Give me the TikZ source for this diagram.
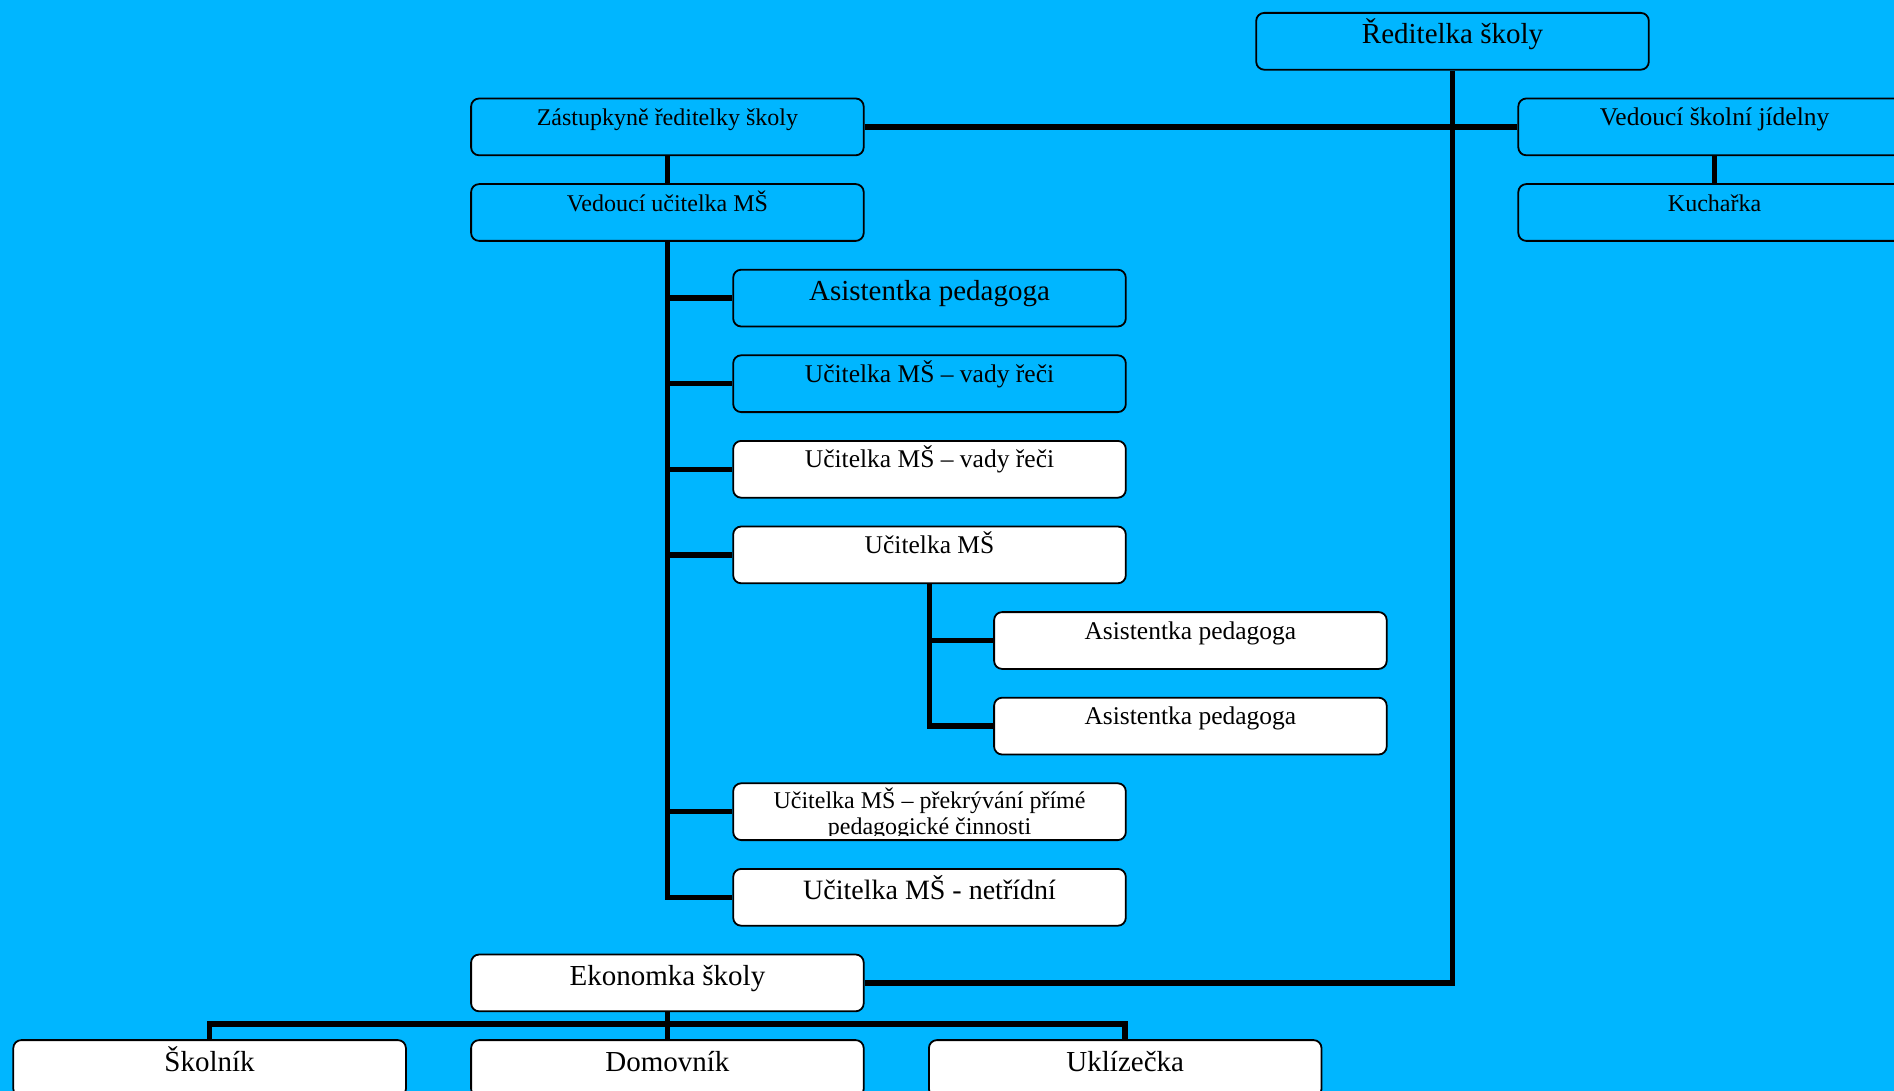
\documentclass[tikz,border=0pt]{standalone}
\usepackage{fontspec}
\setmainfont{Liberation Serif}
\definecolor{sky}{RGB}{0,182,255}
\begin{document}
\begin{tikzpicture}[x=1pt,y=-1pt,
  box/.style={draw,line width=1.8pt,rounded corners=8pt,anchor=north,minimum width=392.6pt,minimum height=56.8pt,inner xsep=2pt,inner ysep=0pt},
  small/.style={box,font=\fontsize{24}{26}\selectfont,text height=27pt,text depth=29.8pt},
  mid/.style={box,font=\fontsize{25.5}{27}\selectfont,text height=27pt,text depth=29.8pt},
  big/.style={box,font=\fontsize{29}{31}\selectfont,text height=31pt,text depth=25.8pt},
  link/.style={line width=5.5pt}]
\clip (0,0) rectangle (1894,1091);
\fill[sky] (0,0) rectangle (1894,1091);

\node[big] (dir) at (1452.5,12) {Ředitelka školy};
\node[small] (zast) at (667.4,97.6) {Zástupkyně ředitelky školy};
\node[mid] (jid) at (1714.6,97.6) {Vedoucí školní jídelny};
\node[small] (vedu) at (667.4,183.2) {Vedoucí učitelka MŠ};
\node[small] (kuch) at (1714.6,183.2) {Kuchařka};
\node[big] (asp) at (929.5,268.8) {Asistentka pedagoga};
\node[mid] (vada1) at (929.5,354.4) {Učitelka MŠ – vady řeči};
\node[mid,fill=white] (vada2) at (929.5,440) {Učitelka MŠ – vady řeči};
\node[mid,fill=white] (ucit) at (929.5,525.6) {Učitelka MŠ};
\node[mid,fill=white] (asa) at (1190.4,611.2) {Asistentka pedagoga};
\node[mid,fill=white] (asb) at (1190.4,696.8) {Asistentka pedagoga};
% two lines, cut off by the box
\node[box,fill=white,text height=0pt,text depth=56.8pt,
  path picture={
    \clip ([yshift=5pt]path picture bounding box.south west) rectangle (path picture bounding box.north east);
    \node[anchor=north,align=center,inner sep=0pt,text height=,text depth=,font=\fontsize{24}{26}\selectfont] (prekrtxt)
      at ([yshift=-1pt]path picture bounding box.north) {Učitelka MŠ – překrývání přímé\\pedagogické činnosti};
  }] (prekr) at (929.5,782.4) {};
\node[big,font=\fontsize{28}{30}\selectfont,fill=white] (netr) at (929.5,868) {Učitelka MŠ - netřídní};
\node[big,fill=white] (ekon) at (667.4,953.6) {Ekonomka školy};
\node[big,fill=white] (skol) at (209.6,1039.2) {Školník};
\node[big,fill=white] (domo) at (667.4,1039.2) {Domovník};
\node[big,fill=white] (ukli) at (1125.2,1039.2) {Uklízečka};

\draw[link] (dir.south) |- (ekon.east);
\draw[link] (zast.east) -- (jid.west);
\draw[link] (zast.south) -- (vedu.north);
\draw[link] (jid.south) -- (kuch.north);
\foreach \n in {asp,vada1,vada2,ucit,prekr,netr}{
\draw[link] (vedu.south) |- (\n.west);
}
\foreach \n in {asa,asb}{
\draw[link] (ucit.south) |- (\n.west);
}
\coordinate (bus) at (667.4,1024);
\draw[link] (ekon.south) -- (bus);
\foreach \n in {skol,domo,ukli}{
\draw[link] (bus) -| (\n.north);
}
\end{tikzpicture}
\end{document}
